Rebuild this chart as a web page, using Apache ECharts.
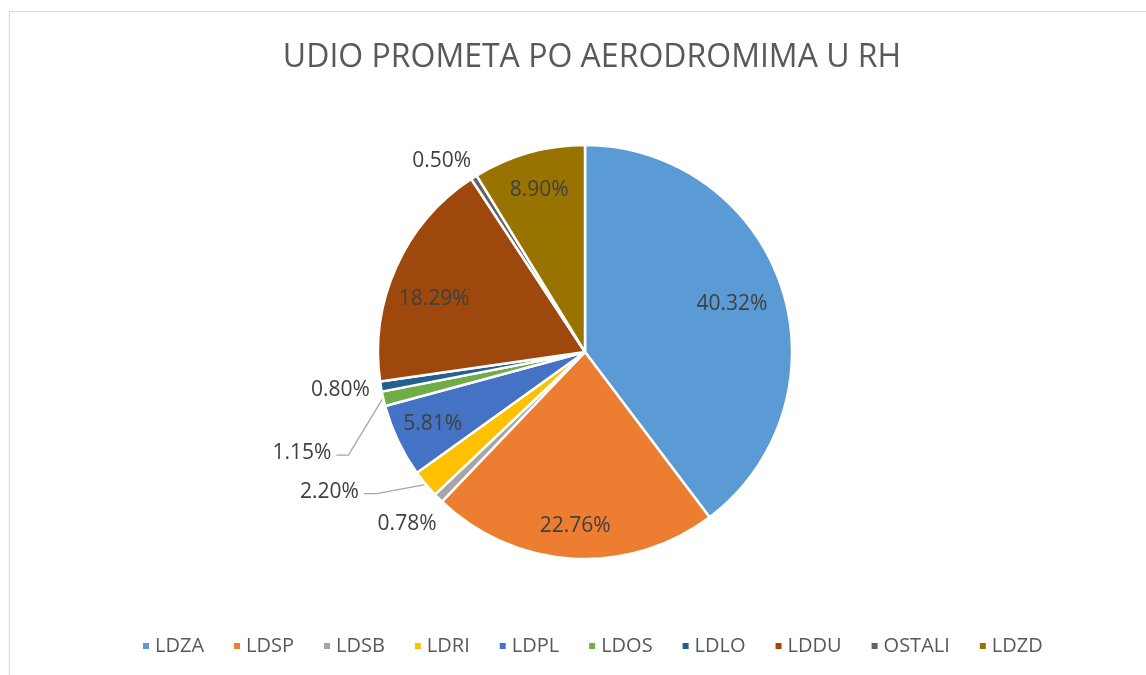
<!DOCTYPE html>
<html>
<head>
<meta charset="utf-8">
<script src="https://cdn.jsdelivr.net/npm/echarts@6/dist/echarts.min.js"></script>
<style>
  html, body { margin: 0; padding: 0; background: #fff; }
  #frame { position: absolute; left: 9px; top: 11px; width: 1200px; height: 700px; border: 1px solid #d9d9d9; box-sizing: border-box; }
  #chart { position: absolute; left: 0; top: 0; width: 1146px; height: 675px; }
</style>
</head>
<body>
<div id="frame"></div>
<div id="chart"></div>
<script>
// airport share of traffic (%), as printed on the slices
const airports = ['LDZA', 'LDSP', 'LDSB', 'LDRI', 'LDPL', 'LDOS', 'LDLO', 'LDDU', 'OSTALI', 'LDZD'];
const shares = [40.32, 22.76, 0.78, 2.20, 5.81, 1.15, 0.80, 18.29, 0.50, 8.90];
const colors = ['#5B9BD5', '#ED7D31', '#A5A5A5', '#FFC000', '#4472C4', '#70AD47', '#255E91', '#9E480E', '#636363', '#997300'];

// layout of the labels that sit outside the pie (gap = distance past the rim,
// elbow = bend of the leader line relative to the rim point, run = horizontal tail)
const outsideLabels = {
  LDSB:   { gap: 40, shift: [-3, -2] },
  LDLO:   { gap: 41, shift: [0, -3] },
  OSTALI: { gap: 34, shift: [-14, 12] },
  LDRI:   { elbow: [-48, 9], run: 13 },
  LDOS:   { elbow: [-34, 56], run: 12 }
};
// small nudges for the inside labels
const insideNudge = { LDZA: [-13, 6], LDSP: [0, 6], LDDU: [3, 16] };

const chart = echarts.init(document.getElementById('chart'), null, { renderer: 'canvas' });

const font = '"Open Sans", "Liberation Sans", sans-serif';
const fmt = p => p.value.toFixed(2) + '%';
const center = [585, 352];
const R = 207;

// mid angle of each slice, clockwise from 12 o'clock
const total = shares.reduce((a, b) => a + b, 0);
const midAngle = [];
let acc = 0;
shares.forEach(v => {
  midAngle.push((acc + v / 2) / total * 2 * Math.PI);
  acc += v;
});
const rimPoint = (i, r) => [center[0] + r * Math.sin(midAngle[i]), center[1] - r * Math.cos(midAngle[i])];

chart.setOption({
  color: colors,
  animation: false,
  title: {
    text: 'UDIO PROMETA PO AERODROMIMA U RH',
    left: 587,
    textAlign: 'center',
    top: 37,
    textStyle: { fontFamily: font, fontSize: 32, fontWeight: 'normal', color: '#595959' }
  },
  legend: {
    top: 631,
    left: 136,
    icon: 'rect',
    itemWidth: 8,
    itemHeight: 8,
    itemGap: 28,
    data: airports,
    textStyle: { fontFamily: font, fontSize: 20, color: '#595959' }
  },
  series: [
    {
      type: 'pie',
      center: center,
      radius: R,
      startAngle: 90,
      clockwise: true,
      avoidLabelOverlap: false,
      itemStyle: { borderColor: '#fff', borderWidth: 2.5 },
      labelLine: { length: 10, length2: 10, lineStyle: { color: '#a6a6a6', width: 1.3 } },
      data: airports.map((n, i) => {
        const cfg = outsideLabels[n];
        return {
          name: n,
          value: shares[i],
          label: {
            show: !!cfg,
            position: 'outside',
            formatter: fmt,
            fontFamily: font,
            fontSize: 21,
            color: '#404040'
          },
          labelLine: { show: !!(cfg && cfg.elbow) }
        };
      }),
      labelLayout: p => {
        const n = airports[p.dataIndex];
        const cfg = outsideLabels[n];
        if (!cfg) return {};
        if (cfg.elbow) {
          const p0 = rimPoint(p.dataIndex, R + 1);
          const p1 = [p0[0] + cfg.elbow[0], p0[1] + cfg.elbow[1]];
          const p2 = [p1[0] - cfg.run, p1[1]];
          return { x: p2[0] - 5, y: p2[1] - 2, align: 'right', verticalAlign: 'middle', labelLinePoints: [p0, p1, p2], hideOverlap: false };
        }
        const c = rimPoint(p.dataIndex, R + cfg.gap);
        const s = cfg.shift || [0, 0];
        return { x: c[0] + s[0], y: c[1] + s[1], align: 'center', verticalAlign: 'middle', hideOverlap: false };
      }
    },
    {
      // transparent ring that only carries the inside labels
      type: 'pie',
      center: center,
      radius: [R * 0.6, R],
      startAngle: 90,
      silent: true,
      legendHoverLink: false,
      itemStyle: { color: 'rgba(0,0,0,0)' },
      label: {
        show: true,
        position: 'inside',
        formatter: fmt,
        fontFamily: font,
        fontSize: 21,
        color: '#404040'
      },
      labelLine: { show: false },
      data: airports.map((n, i) => ({
        name: n,
        value: shares[i],
        label: { show: !outsideLabels[n] }
      })),
      labelLayout: p => {
        const d = insideNudge[airports[p.dataIndex]];
        return d ? { dx: d[0], dy: d[1] } : {};
      }
    }
  ]
});
</script>
</body>
</html>
